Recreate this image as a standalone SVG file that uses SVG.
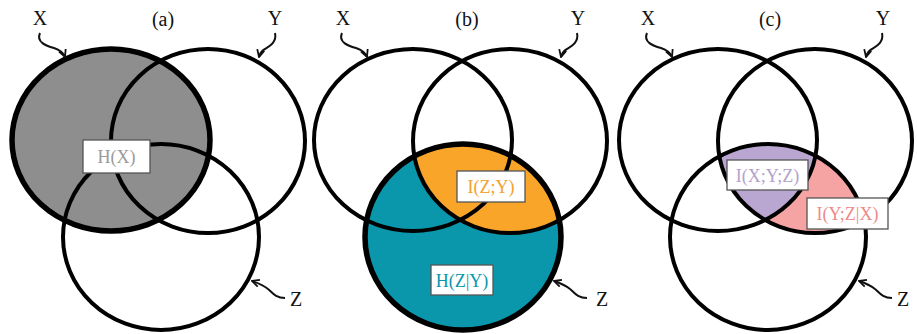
<svg xmlns="http://www.w3.org/2000/svg" width="917" height="334" viewBox="0 0 917 334">
<style>
.c{fill:none;stroke:#000;stroke-width:4}
.t{stroke-width:5.5}
.lbl{font-family:"Liberation Serif","Times New Roman",serif;font-size:20px;fill:#111;text-anchor:middle}
.box{fill:#fff;stroke:#555;stroke-width:1.3}
.bt{font-family:"Liberation Serif","Times New Roman",serif;font-size:18px;text-anchor:middle}
.arr{fill:none;stroke:#111;stroke-width:2;marker-end:url(#ah)}
</style>
<defs>
<marker id="ah" viewBox="0 0 10 10" refX="9" refY="5" markerWidth="9" markerHeight="9" orient="auto" markerUnits="userSpaceOnUse">
<path d="M1,1 L9,5 L1,9" fill="none" stroke="#111" stroke-width="2"/>
</marker>
<ellipse id="eX" cx="111" cy="140" rx="99" ry="91"/>
<ellipse id="eY" cx="208" cy="141" rx="97" ry="92"/>
<ellipse id="eZ" cx="161" cy="237" rx="98" ry="93"/>
<clipPath id="cY"><use href="#eY"/></clipPath>
<clipPath id="cZ"><use href="#eZ"/></clipPath>
<clipPath id="cX"><use href="#eX"/></clipPath>
<mask id="notX" maskUnits="userSpaceOnUse" x="0" y="0" width="320" height="334">
<rect x="0" y="0" width="320" height="334" fill="#fff"/>
<use href="#eX" fill="#000"/>
</mask>
</defs>

<g id="panel-a">
<use href="#eX" fill="#8e8e8e"/>
<use href="#eY" class="c"/>
<use href="#eZ" class="c"/>
<use href="#eX" class="c t"/>
<g id="node-a-HX">
<rect class="box" x="83" y="140" width="67" height="33"/>
<text class="bt" x="116.5" y="163" fill="#9a9a9a">H(X)</text>
</g>
<text class="lbl" x="40" y="25">X</text>
<text class="lbl" x="163" y="26">(a)</text>
<text class="lbl" x="275" y="25">Y</text>
<text class="lbl" x="296" y="306">Z</text>
</g>

<g id="panel-b" transform="translate(302,0)">
<use href="#eZ" fill="#0a97ac"/>
<g clip-path="url(#cZ)"><use href="#eY" fill="#f9a52a"/></g>
<use href="#eX" class="c"/>
<use href="#eY" class="c"/>
<use href="#eZ" class="c t"/>
<g id="node-b-IZY">
<rect class="box" x="155" y="171" width="68" height="31"/>
<text class="bt" x="189" y="193" fill="#f5a02c">I(Z;Y)</text>
</g>
<g id="node-b-HZY">
<rect class="box" x="129" y="265" width="62" height="30"/>
<text class="bt" x="160" y="287" fill="#0a97ac">H(Z|Y)</text>
</g>
<text class="lbl" x="41" y="25">X</text>
<text class="lbl" x="165" y="26">(b)</text>
<text class="lbl" x="276" y="25">Y</text>
<text class="lbl" x="300" y="306">Z</text>
</g>

<g id="panel-c" transform="translate(607,0)">
<g clip-path="url(#cZ)"><g clip-path="url(#cY)">
<use href="#eX" fill="#b9a7d1"/>
<rect x="0" y="0" width="320" height="334" fill="#f5a3a3" mask="url(#notX)"/>
</g></g>
<use href="#eX" class="c"/>
<use href="#eY" class="c"/>
<use href="#eZ" class="c"/>
<g id="node-c-IXYZ">
<rect class="box" x="120" y="160" width="81" height="30"/>
<text class="bt" x="160.5" y="182" fill="#b3a2cc">I(X;Y;Z)</text>
</g>
<g id="node-c-IYZX">
<rect class="box" x="200" y="198" width="81" height="31"/>
<text class="bt" x="240.5" y="220" fill="#ef8a8a">I(Y;Z|X)</text>
</g>
<text class="lbl" x="41" y="25">X</text>
<text class="lbl" x="163" y="26">(c)</text>
<text class="lbl" x="276" y="25">Y</text>
<text class="lbl" x="296" y="306">Z</text>
</g>

<g id="connectors">
<g id="arrows-a">
<path class="arr" d="M40,33 C36,42 46,46 54,48 C60,50 63,52 65,57"/>
<path class="arr" d="M275,33 C277,42 270,46 265,49 C261,51 260,53 259,57"/>
<path class="arr" d="M285,298 C275,298 272,292 268,289 C263,285 258,283 252,281"/>
</g>
<g id="arrows-b" transform="translate(302,0)">
<path class="arr" d="M40,33 C36,42 46,46 54,48 C60,50 63,52 65,57"/>
<path class="arr" d="M275,33 C277,42 270,46 265,49 C261,51 260,53 259,57"/>
<path class="arr" d="M285,298 C275,298 272,292 268,289 C263,285 258,283 252,281"/>
</g>
<g id="arrows-c" transform="translate(607,0)">
<path class="arr" d="M40,33 C36,42 46,46 54,48 C60,50 63,52 65,57"/>
<path class="arr" d="M275,33 C277,42 270,46 265,49 C261,51 260,53 259,57"/>
<path class="arr" d="M285,298 C275,298 272,292 268,289 C263,285 258,283 252,281"/>
</g>
</g>
</svg>
